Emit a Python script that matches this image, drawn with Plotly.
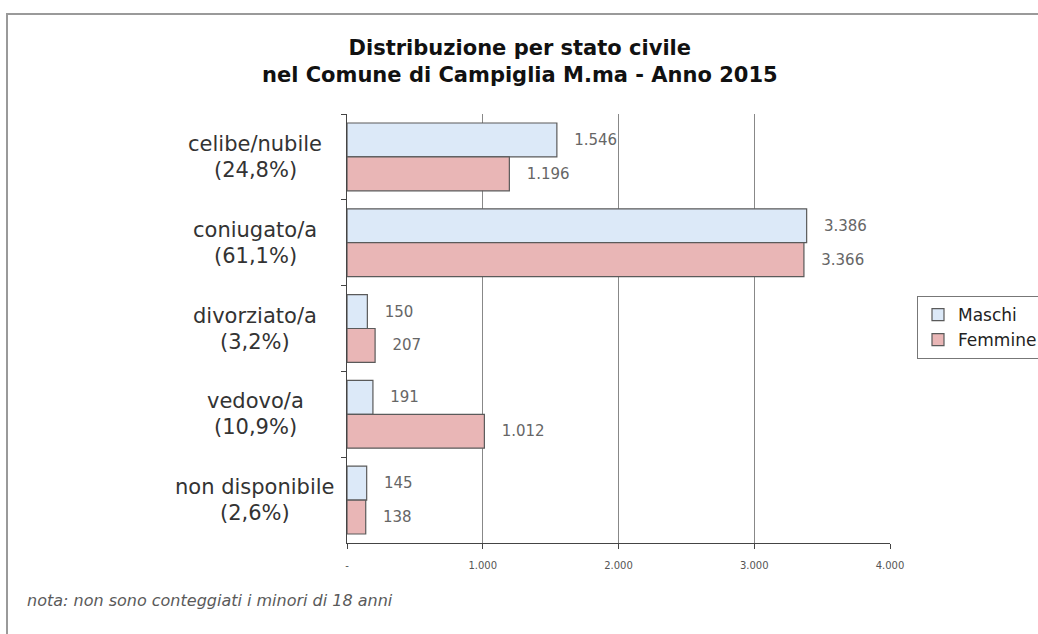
import plotly.graph_objects as go

# Marital status counts, Campiglia Marittima 2015
categories = ["celibe/nubile", "coniugato/a", "divorziato/a", "vedovo/a", "non disponibile"]
shares = ["(24,8%)", "(61,1%)", "(3,2%)", "(10,9%)", "(2,6%)"]
maschi = [1546, 3386, 150, 191, 145]
femmine = [1196, 3366, 207, 1012, 138]
x_ticks = [0, 1000, 2000, 3000, 4000]
x_tick_labels = ["-", "1.000", "2.000", "3.000", "4.000"]

FONT = "DejaVu Sans"


def it_num(v):
    return f"{v:,}".replace(",", ".")


fig = go.Figure()
for name, vals, fill in [("Maschi", maschi, "#dce9f8"), ("Femmine", femmine, "#e9b6b6")]:
    fig.add_trace(go.Bar(
        name=name,
        y=categories,
        x=vals,
        orientation="h",
        marker=dict(color=fill, line=dict(color="#5a5a5a", width=1.2)),
        text=["   " + it_num(v) for v in vals],
        textposition="outside",
        textfont=dict(family=FONT, size=15, color="#666666"),
        cliponaxis=False,
    ))

# category labels: name above, share below, centred on each other
annotations = []
for cat, sh in zip(categories, shares):
    annotations.append(dict(x=-0.169, y=cat, xref="paper", yref="y", text=cat,
                            showarrow=False, xanchor="center", yanchor="middle", yshift=13,
                            font=dict(family=FONT, size=21, color="#333333")))
    annotations.append(dict(x=-0.169, y=cat, xref="paper", yref="y", text=sh,
                            showarrow=False, xanchor="center", yanchor="middle", yshift=-13,
                            font=dict(family=FONT, size=21, color="#333333")))

# chart title
annotations.append(dict(x=0.3186, y=1.122, xref="paper", yref="paper",
                        text="<b>Distribuzione per stato civile<br>nel Comune di Campiglia M.ma - Anno 2015</b>",
                        showarrow=False, xanchor="center", yanchor="middle", align="center",
                        font=dict(family=FONT, size=21, color="#111111")))

# footnote
annotations.append(dict(x=-0.593, y=-0.135, xref="paper", yref="paper",
                        text="<i>nota: non sono conteggiati i minori di 18 anni</i>",
                        showarrow=False, xanchor="left", yanchor="middle",
                        font=dict(family=FONT, size=16, color="#5a5a5a")))

fig.update_layout(
    width=1038,
    height=634,
    margin=dict(l=347, r=148, t=114, b=91),
    paper_bgcolor="white",
    plot_bgcolor="white",
    barmode="group",
    bargap=0.21,
    bargroupgap=0,
    xaxis=dict(
        range=[0, 4000],
        tickvals=x_ticks,
        ticktext=x_tick_labels,
        tickfont=dict(family=FONT, size=10, color="#555555"),
        ticklabelstandoff=8,
        showgrid=True,
        gridcolor="#888888",
        gridwidth=1,
        zeroline=False,
        showline=True,
        linecolor="#444444",
        linewidth=1,
        ticks="outside",
        ticklen=5,
        tickcolor="#444444",
        fixedrange=True,
    ),
    yaxis=dict(
        autorange="reversed",
        showticklabels=False,
        showline=True,
        linecolor="#444444",
        linewidth=1,
        ticks="outside",
        tickson="boundaries",
        ticklen=5,
        tickcolor="#444444",
        showgrid=False,
        fixedrange=True,
    ),
    legend=dict(
        xref="container", yref="container",
        x=917 / 1038, y=1 - 296 / 634, xanchor="left", yanchor="top",
        bordercolor="#777777", borderwidth=1, bgcolor="white",
        font=dict(family=FONT, size=17, color="#222222"),
        traceorder="normal",
        itemwidth=30,
    ),
    annotations=annotations,
    showlegend=True,
    shapes=[dict(type="rect", xref="paper", yref="paper",
                 x0=(7 - 347) / 543, x1=(1045 - 347) / 543,
                 y0=(543 - 640) / 429, y1=(543 - 14) / 429,
                 line=dict(color="#9a9a9a", width=2), fillcolor="rgba(0,0,0,0)",
                 layer="below")],
)

fig.write_html("out.html")
